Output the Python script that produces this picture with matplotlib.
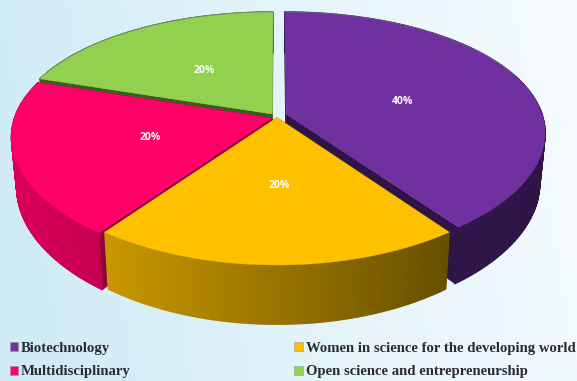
import numpy as np
import matplotlib
matplotlib.use("Agg")
import matplotlib.pyplot as plt
from matplotlib.collections import PolyCollection
from matplotlib.colors import to_rgb
from matplotlib.patches import Patch

categories = ["Biotechnology", "Women in science for the developing world",
              "Multidisciplinary", "Open science and entrepreneurship"]
values = [40, 20, 20, 20]
labels = ["40%", "20%", "20%", "20%"]
top_colors = ["#7030A0", "#FFC000", "#FF0066", "#92D050"]
cut_colors = ["#2E1546", "#6A5000", "#8E0039", "#3F5C20"]
wall_left = ["#351A52", "#C99800", "#DA0058", "#3F5C20"]
wall_right = ["#2E1546", "#665000", "#C4004E", "#3F5C20"]
draw_order = [3, 2, 0, 1]
legend_order = [0, 2, 1, 3]

W, H = 577, 381
CX, CY = 277, 114
R, A, K, KX, DEPTH = 256, 120, 0.176, 0.15, 48.5
BOTTOM_X = 0.98
offset_x = [0.035, 0.0, -0.02, -0.018]
offset_y = [0.0, -0.03, -0.034, 0.0]
label_dx = [-2, 2, 4, 3]
label_dy = [4, -0.6, -2, 0]


def project(X, Y, bottom=False):
    s = 1 / (1 + K * Y)
    sx = 1 / (1 + KX * Y)
    if bottom:
        return CX + BOTTOM_X * R * X * sx, CY - A * Y * s + DEPTH * s
    return CX + R * X * sx, CY - A * Y * s


fig = plt.figure(figsize=(W / 100, H / 100), dpi=100)
ax = fig.add_axes([0, 0, 1, 1])
ax.set_xlim(0, W)
ax.set_ylim(H, 0)
ax.axis("off")

gx, gy = np.meshgrid(np.linspace(0, 1, 120), np.linspace(0, 1, 80))
t = np.clip(0.86 * gx + 0.10 * (1 - gy) + 0.02, 0, 1)[..., None]
bg = (1 - t) * np.array(to_rgb("#CDEAF5")) + t * np.array(to_rgb("#F8FCFF"))
ax.imshow(bg, extent=(0, W, H, 0), aspect="auto", zorder=0, interpolation="bilinear")

total = sum(values)
edges = np.concatenate([[0], np.cumsum(values)]) / total * 2 * np.pi
z = 1
for i in draw_order:
    a0, a1 = edges[i], edges[i + 1]
    mid = (a0 + a1) / 2
    ox, oy = offset_x[i], offset_y[i]
    th = np.linspace(a0, a1, 120)
    X, Y = ox + np.sin(th), oy + np.cos(th)
    tx, ty = project(X, Y)
    bx, by = project(X, Y, True)
    apex_t = project(ox, oy)
    apex_b = project(ox, oy, True)

    # radial cut walls
    for px, py, bpx, bpy in ((tx[0], ty[0], bx[0], by[0]), (tx[-1], ty[-1], bx[-1], by[-1])):
        ax.fill([apex_t[0], px, bpx, apex_b[0]], [apex_t[1], py, bpy, apex_b[1]],
                color=cut_colors[i], lw=0.3, zorder=z)
    z += 1

    # outer rim wall with a horizontal shading
    polys, cols = [], []
    c0, c1 = np.array(to_rgb(wall_left[i])), np.array(to_rgb(wall_right[i]))
    lo, hi = tx.min(), tx.max()
    for j in range(len(th) - 1):
        polys.append([(tx[j], ty[j]), (tx[j + 1], ty[j + 1]), (bx[j + 1], by[j + 1]), (bx[j], by[j])])
        f = ((tx[j] + tx[j + 1]) / 2 - lo) / (hi - lo)
        cols.append((1 - f) * c0 + f * c1)
    ax.add_collection(PolyCollection(polys, facecolors=cols, edgecolors=cols, linewidths=1.0, zorder=z))
    z += 1

    # top face
    ax.fill(np.r_[apex_t[0], tx], np.r_[apex_t[1], ty], facecolor=top_colors[i],
            edgecolor=top_colors[i], lw=0.3, zorder=z)
    back = np.cos(th) > 0.35
    if back.any():
        ax.plot(tx[back], ty[back], color="#6F7F80", lw=0.5, alpha=0.7, zorder=z)
    z += 1

    lx, ly = project(ox + 0.5 * np.sin(mid), oy + 0.5 * np.cos(mid))
    ax.text(lx + label_dx[i], ly + label_dy[i] + 2, labels[i], color="white", fontsize=7.5,
            fontweight="bold", family="Open Sans", ha="center", va="center", zorder=50)

handles = [Patch(facecolor=top_colors[i], edgecolor="#999999", linewidth=0.4) for i in legend_order]
names = [categories[i] for i in legend_order]
leg = ax.legend(handles, names, ncols=2, frameon=False, loc="lower left",
                bbox_to_anchor=(9.5 / W, 2.5 / H), borderaxespad=0, borderpad=0,
                handlelength=0.58, handleheight=0.58, handletextpad=0.2,
                columnspacing=11.1, labelspacing=0.72,
                prop={"family": "Liberation Serif", "weight": "bold", "size": 10.6})
for tx_ in leg.get_texts():
    tx_.set_color("#2A2A33")
leg.set_zorder(60)

fig.savefig("out.png", dpi=100)
